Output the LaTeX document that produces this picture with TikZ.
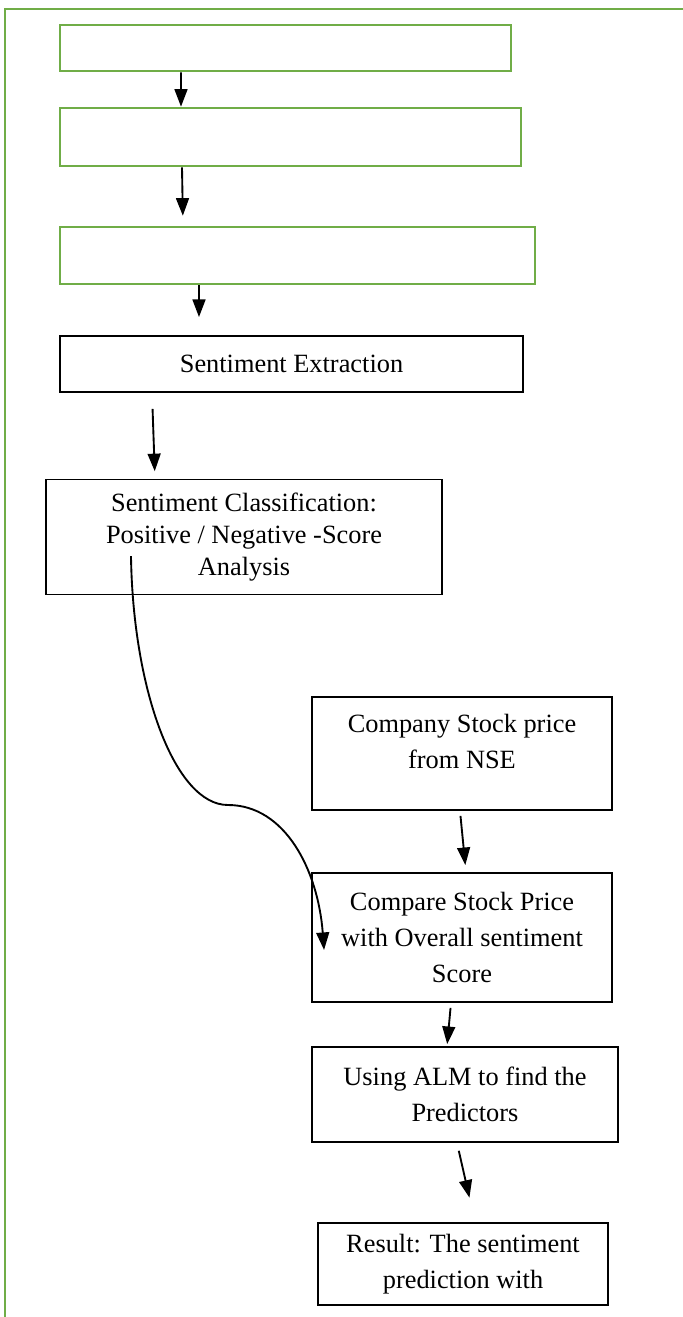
\documentclass[tikz,border=0pt]{standalone}
\usepackage{fontspec}
\setmainfont{Liberation Serif}
\usetikzlibrary{arrows.meta,positioning,calc}
\definecolor{framegreen}{RGB}{112,173,71}

\begin{document}
\begin{tikzpicture}[x=0.03cm, y=-0.03cm,
    greenbox/.style={draw=framegreen, line width=2.2pt, inner sep=0pt},
    blackbox/.style={draw, line width=1.6pt, align=center, inner sep=0pt, font=\fontsize{22.5}{30.5}\selectfont},
    arr/.style={-{Triangle[length=15pt,width=11pt]}, line width=1.6pt}]
    % sentiment analysis flow
    \useasboundingbox (0,0) rectangle (683,1317);
    \draw[framegreen, line width=2.4pt] (5,1317) -- (5,9) -- (683,9);

    \node[greenbox, minimum width=13.53cm, minimum height=1.38cm] (g1) at (285.5,48) {};
    \node[greenbox, minimum width=13.83cm, minimum height=1.74cm] (g2) at (290.5,137) {};
    \node[greenbox, minimum width=14.25cm, minimum height=1.71cm] (g3) at (297.5,255.5) {};

    \node[blackbox, minimum width=13.89cm, minimum height=1.68cm] (extract) at (291.5,364) {Sentiment Extraction};
    \node[blackbox, minimum width=11.88cm, minimum height=3.45cm, font=\fontsize{22.5}{27.5}\selectfont] (classify) at (244,537) {Sentiment Classification:\\Positive / Negative -Score\\Analysis};
    \node[blackbox, minimum width=9cm, minimum height=3.39cm] (stock) at (462,753.5) {Company Stock price\\from NSE\\[-18.8pt] \strut};
    \node[blackbox, minimum width=9cm, minimum height=3.87cm] (compare) at (462,937.5) {Compare Stock Price\\with Overall sentiment\\Score};
    \node[blackbox, minimum width=9.18cm, minimum height=2.85cm] (alm) at (465,1094.5) {Using ALM to find the\\Predictors};
    \node[blackbox, minimum width=8.7cm, minimum height=2.46cm] (result) at (463,1264) {Result: The sentiment\\prediction with};

    \coordinate (bend) at (228,805);

    \draw[arr] ([xshift=-3.135cm]g1.south) -- ([xshift=-3.285cm]g2.north);
    \draw[arr, shorten >=0.3cm] ([xshift=-3.255cm]g2.south) -- ([xshift=-3.435cm]g3.north);
    \draw[arr, shorten >=0.54cm] ([xshift=-2.955cm]g3.south) -- ([xshift=-2.775cm]extract.north);
    \draw[arr, shorten <=0.48cm, shorten >=0.22cm] ([xshift=-4.185cm]extract.south) -- ([xshift=-2.67cm]classify.north);
    \draw[arr] ([xshift=-3.39cm, yshift=1.18cm]classify.south) .. controls (133,690) and (175,805) .. (bend)
        .. controls (285,805) and (318,870) .. ([xshift=0.39cm, yshift=-0.375cm]compare.west);
    \draw[arr, shorten <=0.15cm, shorten >=0.21cm] ([xshift=-0.06cm]stock.south) -- ([xshift=0.12cm]compare.north);
    \draw[arr, shorten <=0.15cm, shorten >=0.06cm] ([xshift=-0.33cm]compare.south) -- ([xshift=-0.54cm]alm.north);
    \draw[arr, shorten <=0.24cm, shorten >=0.75cm] ([xshift=-0.24cm]alm.south) -- ([xshift=0.36cm]result.north);
\end{tikzpicture}
\end{document}
